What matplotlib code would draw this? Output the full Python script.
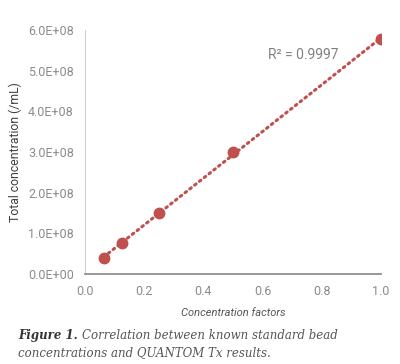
import matplotlib.pyplot as plt
import numpy as np

# concentration factors vs measured total concentration
factors = [0.0625, 0.125, 0.25, 0.5, 1.0]
total_conc = [3.9e7, 7.7e7, 1.49e8, 3.0e8, 5.77e8]
y_ticks = [0, 1e8, 2e8, 3e8, 4e8, 5e8, 6e8]
x_ticks = [0.0, 0.2, 0.4, 0.6, 0.8, 1.0]
r2_text = "R² = 0.9997"

red = '#C0504D'
fig = plt.figure(figsize=(4, 3.64), dpi=100)
ax = fig.add_axes([0.2125, 0.247, 0.74, 0.671])

x = np.array(factors)
y = np.array(total_conc)
slope, icpt = np.polyfit(x, y, 1)
xl = np.array([x.min(), x.max()])
ax.plot(xl, slope * xl + icpt, linestyle=(0, (0.6, 1.4)), color=red,
        linewidth=2.2, dash_capstyle='round', zorder=2)
ax.plot(x, y, 'o', color=red, markersize=7.5, zorder=3)

ax.set_xlim(0, 1.0)
ax.set_ylim(0, 6e8)
ax.set_xticks(x_ticks)
ax.set_xticklabels([f'{t:.1f}' for t in x_ticks])
ax.set_yticks(y_ticks)
ax.set_yticklabels([f'{t/1e8:.1f}E+{8 if t else 0:02d}' for t in y_ticks])

for s in ['top', 'right']:
    ax.spines[s].set_visible(False)
ax.spines['left'].set_color('#d0d0d0')
ax.spines['bottom'].set_color('#909090')
ax.spines['bottom'].set_linewidth(1.3)
ax.tick_params(length=0, labelsize=9, labelcolor='#8c8c8c', pad=8)
for lab in ax.get_xticklabels() + ax.get_yticklabels():
    lab.set_family('Roboto')

ax.set_ylabel('Total concentration (/mL)', family='Roboto', fontsize=8.8,
              color='#404040', labelpad=4)
ax.set_xlabel('Concentration factors', family='Roboto', style='italic',
              fontsize=8, color='#555555', labelpad=7)

ax.text(0.737, 5.38e8, r2_text, family='Roboto', fontsize=10, color='#808080',
        ha='center', va='center')

fig.text(0.045, 0.077, 'Figure 1.', family='DejaVu Serif', style='italic',
         fontweight='bold', fontsize=8.5, color='#333333', va='center')
fig.text(0.205, 0.077, 'Correlation between known standard bead',
         family='DejaVu Serif', style='italic', fontsize=8.5, color='#555555',
         va='center')
fig.text(0.045, 0.032, 'concentrations and QUANTOM Tx results.',
         family='DejaVu Serif', style='italic', fontsize=8.5, color='#555555',
         va='center')

fig.savefig('out.png', dpi=100)
